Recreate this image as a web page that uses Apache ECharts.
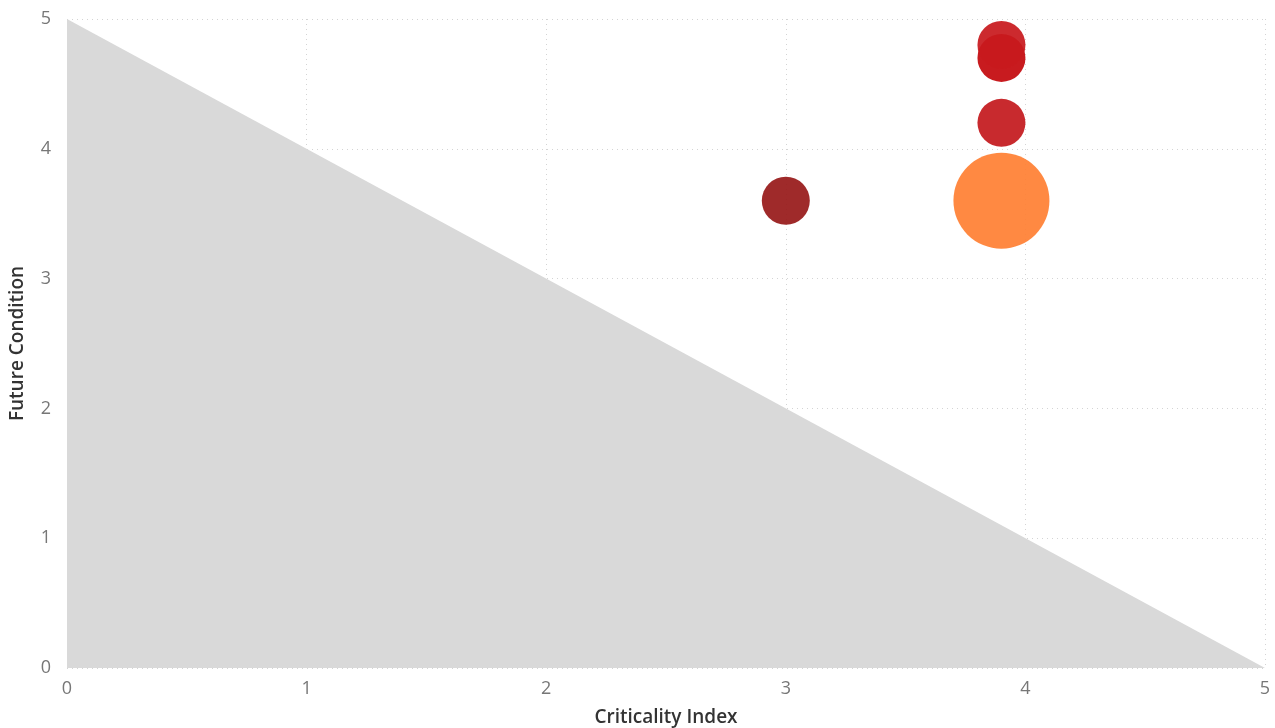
<!DOCTYPE html>
<html>
<head>
<meta charset="utf-8">
<script src="https://cdn.jsdelivr.net/npm/echarts@6/dist/echarts.min.js"></script>
<style>
  html, body { margin: 0; padding: 0; background: #fff; }
  #chart { width: 1275px; height: 728px; }
</style>
</head>
<body>
<div id="chart"></div>
<script>
// Asset bubbles: criticality vs. future condition, bubble weight drives size
const criticality = [3.0, 3.9, 3.9, 3.9, 3.9];
const futureCondition = [3.6, 3.6, 4.2, 4.7, 4.8];
const weight = [1, 4, 1, 1, 1];
const bubbleColors = ['#981a1a', '#ff8034', '#c41a1e', '#c40a0e', '#c81a1e'];

// Low-risk zone below the diagonal
const zoneX = [0, 5];
const zoneY = [5, 0];

const axisTicks = [0, 1, 2, 3, 4, 5];

const chart = echarts.init(document.getElementById('chart'));

const gridLine = { show: true, lineStyle: { color: '#d4d4d4', type: [1, 4], width: 1 } };
const tickLabel = { color: '#777', fontSize: 18, fontFamily: 'Open Sans, sans-serif' };
const nameStyle = { color: '#333', fontSize: 19, fontFamily: 'Open Sans, sans-serif', fontWeight: 600 };

chart.setOption({
  animation: false,
  grid: { left: 67, right: 10, top: 19, bottom: 60, containLabel: false, outerBoundsMode: 'none' },
  xAxis: {
    type: 'value', min: axisTicks[0], max: axisTicks[axisTicks.length - 1], interval: 1,
    name: 'Criticality Index', nameLocation: 'middle', nameGap: 40, nameTextStyle: nameStyle,
    axisLine: { show: false }, axisTick: { show: false },
    axisLabel: Object.assign({ margin: 12 }, tickLabel),
    splitLine: gridLine
  },
  yAxis: {
    type: 'value', min: axisTicks[0], max: axisTicks[axisTicks.length - 1], interval: 1,
    name: 'Future Condition', nameLocation: 'middle', nameGap: 40, nameTextStyle: nameStyle,
    axisLine: { show: false }, axisTick: { show: false },
    axisLabel: Object.assign({ margin: 16 }, tickLabel),
    splitLine: gridLine
  },
  series: [
    {
      type: 'line',
      data: zoneX.map((x, i) => [x, zoneY[i]]),
      showSymbol: false,
      lineStyle: { width: 0 },
      areaStyle: { color: '#d9d9d9', opacity: 1 },
      silent: true,
      z: 1
    },
    {
      type: 'scatter',
      data: criticality.map((x, i) => ({
        value: [x, futureCondition[i], weight[i]],
        itemStyle: { color: bubbleColors[i] }
      })),
      symbolSize: v => 48 * Math.sqrt(v[2]),
      itemStyle: { opacity: 0.93 },
      z: 3
    }
  ]
});
</script>
</body>
</html>
